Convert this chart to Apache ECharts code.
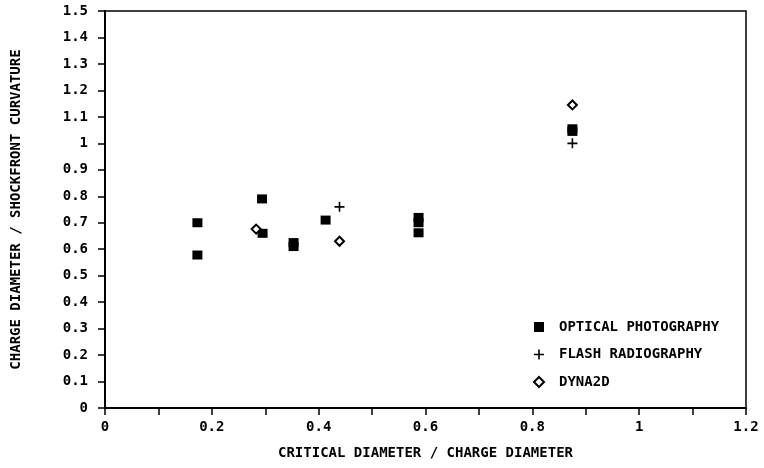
<!DOCTYPE html>
<html><head><meta charset="utf-8">
<script src="https://cdn.jsdelivr.net/npm/echarts@6/dist/echarts.min.js"></script>
<style>html,body{margin:0;padding:0;background:#fff}#c{width:764px;height:468px}</style>
</head><body><div id="c"></div>
<script>
const seriesNames = ['OPTICAL PHOTOGRAPHY', 'FLASH RADIOGRAPHY', 'DYNA2D'];
const opticalX = [0.173, 0.173, 0.294, 0.295, 0.353, 0.353, 0.413, 0.587, 0.587, 0.587, 0.875, 0.875];
const opticalY = [0.700, 0.578, 0.790, 0.660, 0.610, 0.625, 0.710, 0.700, 0.720, 0.662, 1.045, 1.055];
const flashX = [0.439, 0.875];
const flashY = [0.760, 1.000];
const dynaX = [0.283, 0.439, 0.875];
const dynaY = [0.676, 0.630, 1.145];
const xTicks = [0, 0.2, 0.4, 0.6, 0.8, 1, 1.2];
const yTicks = [0, 0.1, 0.2, 0.3, 0.4, 0.5, 0.6, 0.7, 0.8, 0.9, 1, 1.1, 1.2, 1.3, 1.4, 1.5];
const xTitle = 'CRITICAL DIAMETER / CHARGE DIAMETER';
const yTitle = 'CHARGE DIAMETER / SHOCKFRONT CURVATURE';

const zip = (xs, ys) => xs.map((x, i) => [x, ys[i]]);
const FONT = 'DejaVu Sans Mono';
const fmt = v => {
  const r = Math.round(v * 10) / 10;
  return xTicks.some(t => Math.abs(t - r) < 1e-9) ? String(r) : '';
};
const yfmt = v => {
  const r = Math.round(v * 10) / 10;
  return yTicks.some(t => Math.abs(t - r) < 1e-9) ? String(r) : '';
};
const chart = echarts.init(document.getElementById('c'), null, {renderer: 'canvas'});
chart.setOption({
  animation: false,
  backgroundColor: '#fff',
  grid: {left: 105, top: 11, right: 18, bottom: 60, show: true, borderColor: '#000', borderWidth: 1.5, backgroundColor: 'transparent'},
  xAxis: {
    type: 'value', min: 0, max: 1.2, interval: 0.1,
    name: xTitle, nameLocation: 'middle', nameGap: 38,
    nameTextStyle: {fontFamily: FONT, fontSize: 14, fontWeight: 'bold', color: '#000'},
    axisLine: {show: true, lineStyle: {color: '#000', width: 2}},
    axisTick: {show: true, length: 7, lineStyle: {color: '#000', width: 1.5}},
    axisLabel: {formatter: fmt, fontFamily: FONT, fontSize: 14, fontWeight: 'bold', color: '#000', margin: 12},
    splitLine: {show: false}
  },
  yAxis: {
    type: 'value', min: 0, max: 1.5, interval: 0.1,
    name: yTitle, nameLocation: 'middle', nameGap: 82, nameRotate: 90,
    nameTextStyle: {fontFamily: FONT, fontSize: 14, fontWeight: 'bold', color: '#000'},
    axisLine: {show: true, lineStyle: {color: '#000', width: 2}},
    axisTick: {show: true, length: 7, lineStyle: {color: '#000', width: 1.5}},
    axisLabel: {formatter: yfmt, fontFamily: FONT, fontSize: 14, fontWeight: 'bold', color: '#000', margin: 17},
    splitLine: {show: false}
  },
  legend: {
    orient: 'vertical', left: 528, top: 315, itemGap: 13.5, itemWidth: 10, itemHeight: 10,
    textStyle: {fontFamily: FONT, fontSize: 14, fontWeight: 'bold', color: '#000', lineHeight: 14, padding: [0, 0, 0, 10]},
    data: seriesNames
  },
  series: [
    {name: seriesNames[0], type: 'scatter', symbol: 'rect', symbolSize: [10, 9],
     itemStyle: {color: '#000', opacity: 1}, data: zip(opticalX, opticalY)},
    {name: seriesNames[1], type: 'scatter', symbol: 'path://M4.2,0H5.8V4.2H10V5.8H5.8V10H4.2V5.8H0V4.2H4.2Z', symbolSize: 10,
     itemStyle: {color: '#000', opacity: 1}, data: zip(flashX, flashY)},
    {name: seriesNames[2], type: 'scatter', symbol: 'path://M5,0L10,5L5,10L0,5Z', symbolSize: 9,
     itemStyle: {color: '#fff', borderColor: '#000', borderWidth: 2, opacity: 1}, data: zip(dynaX, dynaY)}
  ]
});
</script></body></html>
